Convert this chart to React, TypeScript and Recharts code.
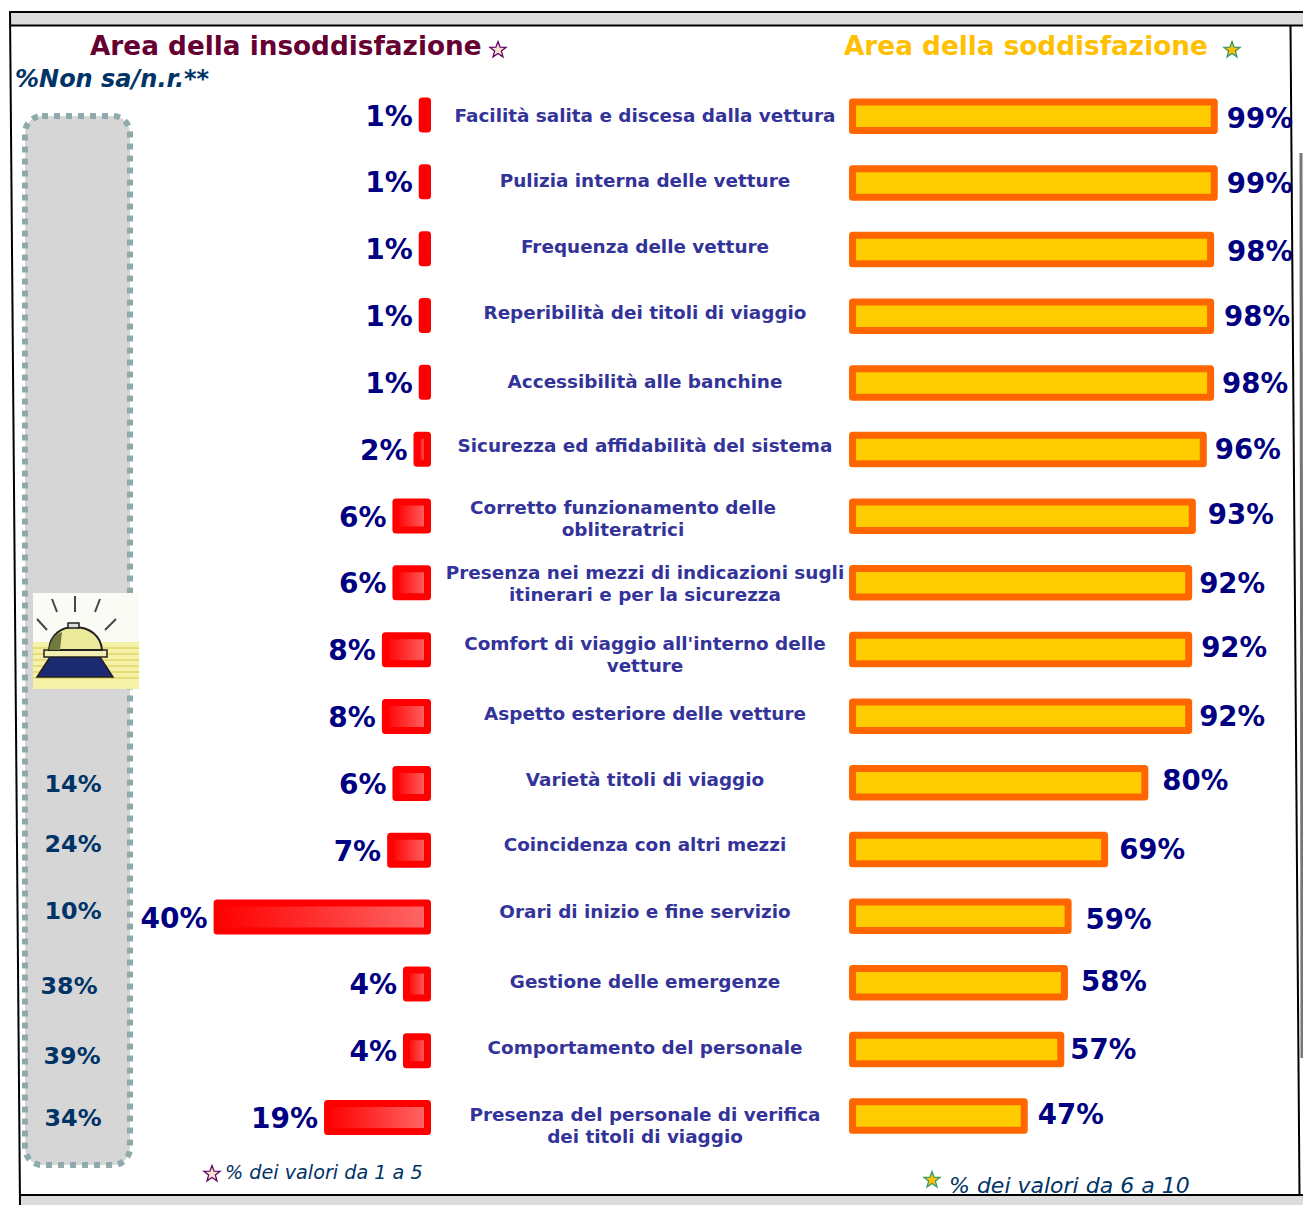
import React from 'react';
import { BarChart, Bar, XAxis, YAxis, LabelList } from 'recharts';

const categories = [
  'Facilità salita e discesa dalla vettura',
  'Pulizia interna delle vetture',
  'Frequenza delle vetture',
  'Reperibilità dei titoli di viaggio',
  'Accessibilità alle banchine',
  'Sicurezza ed affidabilità del sistema',
  'Corretto funzionamento delle\nobliteratrici',
  'Presenza nei mezzi di indicazioni sugli\nitinerari e per la sicurezza',
  "Comfort di viaggio all'interno delle\nvetture",
  'Aspetto esteriore delle vetture',
  'Varietà titoli di viaggio',
  'Coincidenza con altri mezzi',
  'Orari di inizio e fine servizio',
  'Gestione delle emergenze',
  'Comportamento del personale',
  'Presenza del personale di verifica\ndei titoli di viaggio',
];
const insoddisfatti = [1, 1, 1, 1, 1, 2, 6, 6, 8, 8, 6, 7, 40, 4, 4, 19];
const soddisfatti = [99, 99, 98, 98, 98, 96, 93, 92, 92, 92, 80, 69, 59, 58, 57, 47];
const nonSa = [null, null, null, null, null, null, null, null, null, null, 14, 24, 10, 38, 39, 34];

const chartData = categories.map((name, i) => ({
  name,
  insoddisfatti: insoddisfatti[i],
  soddisfatti: soddisfatti[i],
  nonSa: nonSa[i],
}));

// small hand nudges, the source picture is not on a regular grid
const catDy = [-1, -3, -4, -4, -2, -5, 2, 0, 4, -3, -4, -6, -5, -2, -3, 9];
const catDx = [0, 0, 0, 0, 0, 0, -22, 0, 0, 0, 0, 0, 0, 0, 0, 0];
const rightGap = [9, 9, 13, 10, 8, 8, 12, 7, 9, 7, 14, 11, 14, 13, 6, 10];
const rightDy = [2, 1, 2, 0, 1, 0, -2, 1, -2, 0, -2, 0, 3, -1, 0, -2];
const nonSaDy = [0, 0, 0, 0, 0, 0, 0, 0, 0, 0, 0, -7, -6, 2, 5, 0];
const nonSaDx = [0, 0, 0, 0, 0, 0, 0, 0, 0, 0, 0, 0, 0, -4, -1, 0];

const FONT = '"DejaVu Sans", Verdana, sans-serif';
const NAVY = '#000080';
const W = 1303;
const H = 1205;

const starPoints = (cx: number, cy: number, r: number) => {
  const pts: string[] = [];
  for (let i = 0; i < 10; i++) {
    const rad = i % 2 === 0 ? r : r * 0.42;
    const a = -Math.PI / 2 + (i * Math.PI) / 5;
    pts.push(`${cx + rad * Math.cos(a)},${cy + rad * Math.sin(a)}`);
  }
  return pts.join(' ');
};

const CategoryTick = ({ y, index, payload }: any) => {
  const lines = String(payload.value).split('\n');
  const start = y + catDy[index] - (lines.length - 1) * 11;
  return (
    <text
      x={645 + catDx[index]}
      y={start}
      textAnchor="middle"
      dominantBaseline="central"
      fontFamily={FONT}
      fontWeight="bold"
      fontSize={18.4}
      fill="#333399"
    >
      {lines.map((l: string, i: number) => (
        <tspan key={i} x={645 + catDx[index]} dy={i === 0 ? 0 : 22}>
          {l}
        </tspan>
      ))}
    </text>
  );
};

const NonSaTick = ({ y, index }: any) => {
  const v = nonSa[index];
  if (v == null) return null;
  return (
    <text
      x={73 + nonSaDx[index]}
      y={y + nonSaDy[index]}
      textAnchor="middle"
      dominantBaseline="central"
      fontFamily={FONT}
      fontWeight="bold"
      fontSize={23.8}
      fill="#003366"
    >
      {v}%
    </text>
  );
};

const LeftLabel = ({ x, y, width, height, value }: any) => (
  <text
    x={Math.min(x, x + width) - 9.5}
    y={y + height / 2 + 1}
    textAnchor="end"
    dominantBaseline="central"
    fontFamily={FONT}
    fontWeight="bold"
    fontSize={28}
    fill={NAVY}
  >
    {value}%
  </text>
);

const RightLabel = ({ x, y, width, height, value, index }: any) => (
  <text
    x={x + width + 3.5 + rightGap[index]}
    y={y + height / 2 + rightDy[index]}
    dominantBaseline="central"
    fontFamily={FONT}
    fontWeight="bold"
    fontSize={27.6}
    fill={NAVY}
  >
    {value}%
  </text>
);

function Backdrop() {
  return (
    <svg width={W} height={H} style={{ position: 'absolute', left: 0, top: 0 }}>
      <defs>
        <filter id="soft" x="0" y="0" width="1" height="1">
          <feGaussianBlur stdDeviation="0.7" />
        </filter>
      </defs>
      {/* frame, slightly skewed like the scan */}
      <rect x={11} y={12} width={W} height={13} fill="#dcdcdc" />
      <rect x={20} y={1196} width={W} height={10} fill="#dcdcdc" />
      <line x1={10} y1={12} x2={W} y2={12} stroke="#000" strokeWidth={2} />
      <line x1={10} y1={25.5} x2={W} y2={25.5} stroke="#000" strokeWidth={2} />
      <line x1={20} y1={1195} x2={W} y2={1195} stroke="#000" strokeWidth={2} />
      <line x1={10} y1={11} x2={20} y2={1205} stroke="#000" strokeWidth={2} />
      <line x1={1290.5} y1={26} x2={1299.5} y2={1195} stroke="#000" strokeWidth={2} />
      <line x1={1301} y1={153} x2={1302} y2={1058} stroke="#777" strokeWidth={3} />

      {/* non sa box */}
      <rect
        x={25}
        y={116}
        width={105}
        height={1049}
        rx={17}
        fill="#d6d6d6"
        stroke="#8faaaa"
        strokeWidth={6}
        strokeDasharray="6 6"
      />

      {/* bell picture */}
      <g filter="url(#soft)">
        <rect x={33} y={593} width={106} height={96} fill="#fbfbf6" />
        <rect x={33} y={642} width={106} height={47} fill="#f5f2a8" />
        {[648, 654, 660, 666, 672, 678].map((sy) => (
          <line key={sy} x1={33} y1={sy} x2={139} y2={sy} stroke="#d6c84e" strokeWidth={1} />
        ))}
        <path d="M37 677 L50 657 L100 657 L113 677 Z" fill="#1c2a72" stroke="#222" strokeWidth={1.5} />
        <rect x={44} y={650} width={63} height={7} fill="#f2eeb4" stroke="#222" strokeWidth={1.5} />
        <path d="M49 650 C50 634 62 627 74 627 C90 627 101 636 102 650 Z" fill="#ebe99a" stroke="#222" strokeWidth={2} />
        <path d="M49 650 C50 640 55 634 62 632 L60 650 Z" fill="#6f7a3c" />
        <rect x={68} y={623} width={11} height={5} fill="#ddd" stroke="#222" strokeWidth={1.5} />
        {[
          [52, 599, 57, 612],
          [75, 596, 75, 612],
          [100, 599, 95, 612],
          [37, 619, 47, 630],
          [116, 619, 105, 630],
        ].map(([x1, y1, x2, y2], i) => (
          <line key={i} x1={x1} y1={y1} x2={x2} y2={y2} stroke="#444" strokeWidth={2} />
        ))}
      </g>

      {/* titles */}
      <text x={90} y={55} fontFamily={FONT} fontWeight="bold" fontSize={26.3} fill="#660033">
        Area della insoddisfazione
      </text>
      <text x={844} y={55} fontFamily={FONT} fontWeight="bold" fontSize={26.3} fill="#ffc000">
        Area della soddisfazione
      </text>
      <text x={15} y={87} fontFamily={FONT} fontWeight="bold" fontStyle="italic" fontSize={24} fill="#003366">
        %Non sa/n.r.**
      </text>
      <text x={225} y={1179} fontFamily={FONT} fontStyle="italic" fontSize={19.2} fill="#003366">
        % dei valori da 1 a 5
      </text>
      <text x={949} y={1193} fontFamily={FONT} fontStyle="italic" fontSize={22} fill="#003366">
        % dei valori da 6 a 10
      </text>

      <polygon points={starPoints(498, 50, 8.5)} fill="#f3e3cf" stroke="#660066" strokeWidth={1.3} />
      <polygon points={starPoints(212, 1174, 8.5)} fill="#f3e3cf" stroke="#660066" strokeWidth={1.3} />
      <polygon points={starPoints(1232, 50, 8.5)} fill="#ffc000" stroke="#339966" strokeWidth={1.3} />
      <polygon points={starPoints(932, 1180, 8.5)} fill="#ffc000" stroke="#339966" strokeWidth={1.3} />
    </svg>
  );
}

export default function App() {
  return (
    <div style={{ position: 'absolute', left: 0, top: 0, width: W, height: H, overflow: 'hidden', background: '#fff' }}>
      <Backdrop />
      <div style={{ position: 'absolute', left: 0, top: 0 }}>
        <BarChart
          width={W}
          height={H}
          data={chartData}
          layout="vertical"
          margin={{ top: 82, bottom: 53.6, left: 0, right: W - 427.5 }}
        >
          <defs>
            <linearGradient id="redFill" x1="0" y1="0" x2="1" y2="0">
              <stop offset="0%" stopColor="#ff0000" />
              <stop offset="100%" stopColor="#ff6666" />
            </linearGradient>
          </defs>
          <XAxis type="number" hide reversed domain={[0, 80]} />
          <YAxis
            type="category"
            dataKey="name"
            width={6.7}
            interval={0}
            axisLine={false}
            tickLine={false}
            tick={<NonSaTick />}
          />
          <Bar
            dataKey="insoddisfatti"
            barSize={28}
            fill="url(#redFill)"
            stroke="#ff0000"
            strokeWidth={7}
            strokeLinejoin="round"
            isAnimationActive={false}
          >
            <LabelList dataKey="insoddisfatti" content={<LeftLabel />} />
          </Bar>
        </BarChart>
      </div>
      <div style={{ position: 'absolute', left: 0, top: 0 }}>
        <BarChart
          width={W}
          height={H}
          data={chartData}
          layout="vertical"
          margin={{ top: 83, bottom: 55.5, left: 0, right: 12 }}
        >
          <XAxis type="number" hide domain={[0, 120]} />
          <YAxis
            type="category"
            dataKey="name"
            width={852.5}
            interval={0}
            axisLine={false}
            tickLine={false}
            tick={<CategoryTick />}
          />
          <Bar
            dataKey="soddisfatti"
            barSize={28.5}
            fill="#ffcc00"
            stroke="#ff6600"
            strokeWidth={7}
            strokeLinejoin="round"
            isAnimationActive={false}
          >
            <LabelList dataKey="soddisfatti" content={<RightLabel />} />
          </Bar>
        </BarChart>
      </div>
    </div>
  );
}
